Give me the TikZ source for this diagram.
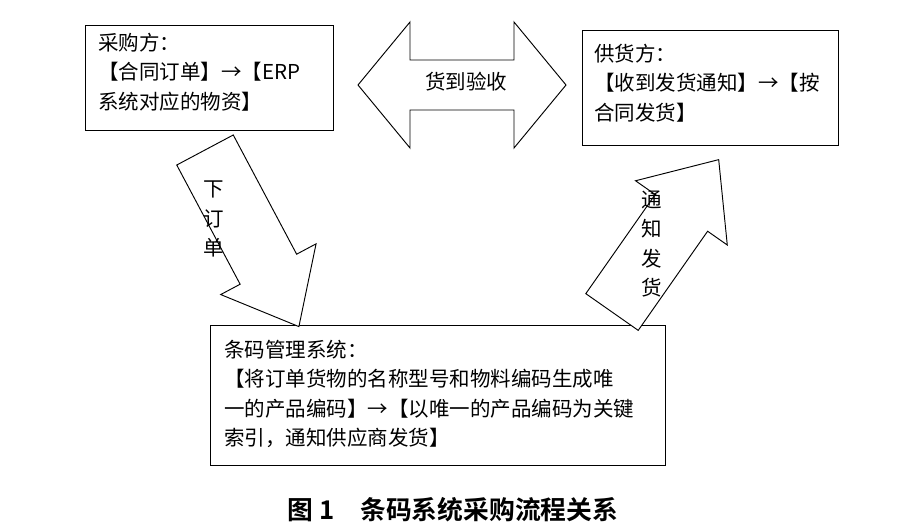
\documentclass[tikz,border=0pt]{standalone}
\usepackage{fontspec}
\setmainfont{Noto Sans CJK SC}
\newfontfamily\capfont{Noto Sans CJK SC Bold}
\usetikzlibrary{positioning}
\tikzset{
  fatarrow/.style={draw, line width=0.8pt, fill=white},
  boxtext/.style={anchor=north west, align=left, inner sep=0pt, font=\fontsize{17.5}{25}\selectfont},
  vtext/.style={align=center, font=\fontsize{17.5}{25}\selectfont},
}
\newcommand{\fatarrowpath}[5]{% length, shaft half, head half, head length
  (0,-#2) -- (#1-#4,-#2) -- (#1-#4,-#3) -- (#1,0) -- (#1-#4,#3) -- (#1-#4,#2) -- (0,#2) -- cycle}
\begin{document}
\begin{tikzpicture}[x=0.03cm,y=-0.03cm]
  \useasboundingbox (0,0) rectangle (904,528);
  % boxes
  \draw[line width=0.8pt] (85,25) rectangle (333,130);
  \node[boxtext] (buyer) at (98,33) {采购方：\\【合同订单】→【ERP\\系统对应的物资】};
  \draw[line width=0.8pt] (582,30) rectangle (838,145);
  \node[boxtext] (supplier) at (594,44) {供货方：\\【收到发货通知】→【按\\合同发货】};
  \draw[line width=0.8pt] (210,325) rectangle (665,465);
  \node[boxtext] (barcode) at (224,340) {条码管理系统：\\【将订单货物的名称型号和物料编码生成唯\\一的产品编码】→【以唯一的产品编码为关键\\索引，通知供应商发货】};
  % double arrow
  \draw[fatarrow] (358,85) -- (410,22) -- (410,60) -- (514,60) -- (514,22) -- (566,85)
    -- (514,148) -- (514,110) -- (410,110) -- (410,148) -- cycle;
  \node[vtext] (recv) at (466,82) {货到验收};
  % down arrow
  \begin{scope}[shift={(205,150)}, rotate=-62]
    \draw[fatarrow] \fatarrowpath{200}{32}{54}{65}{};
  \end{scope}
  \node[vtext] (order) at (214,219) {下\\订\\单};
  % up arrow
  \begin{scope}[shift={(612,312)}, rotate=55]
    \draw[fatarrow] \fatarrowpath{186}{32}{56}{65}{};
  \end{scope}
  \node[vtext] (notify) at (652,244) {通\\知\\发\\货};
  % caption
  \node[font=\capfont\fontsize{22}{24}\selectfont] (caption) at (453,510) {图 1\quad 条码系统采购流程关系};
\end{tikzpicture}
\end{document}
